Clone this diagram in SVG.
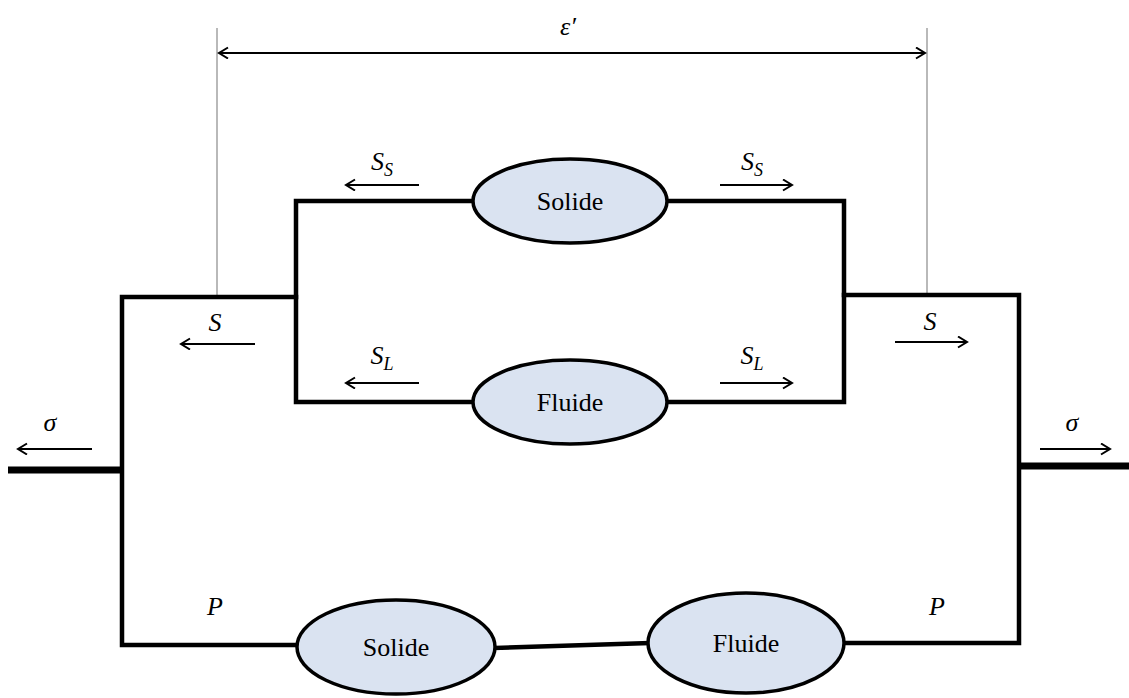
<svg xmlns="http://www.w3.org/2000/svg" width="1129" height="698" viewBox="0 0 1129 698">
<style>
.w{fill:none;stroke:#000;stroke-width:4.5;stroke-linecap:square}
.thick{fill:none;stroke:#000;stroke-width:7}
.ar{fill:none;stroke:#000;stroke-width:2;marker-end:url(#h)}
.guide{fill:none;stroke:#8a8a8a;stroke-width:1.2}
.node{fill:#dae3f1;stroke:#000;stroke-width:3.5}
.nt{font-family:'Liberation Serif','DejaVu Serif',serif;font-size:26px;text-anchor:middle}
.lb{font-family:'Liberation Serif','DejaVu Serif',serif;font-style:italic;font-size:26px;text-anchor:middle}
.sub{font-size:18px}
</style>
<defs>
<marker id="h" markerWidth="14" markerHeight="14" refX="10" refY="6" orient="auto-start-reverse" markerUnits="userSpaceOnUse">
<path d="M1,0.5 L10,6 L1,11.5" fill="none" stroke="#000" stroke-width="2"/>
</marker>
</defs>
<g id="connectors">
<line class="guide" x1="217" y1="28" x2="217" y2="297"/>
<line class="guide" x1="927" y1="28" x2="927" y2="295"/>
<line x1="219" y1="53" x2="925" y2="53" stroke="#000" stroke-width="2" marker-start="url(#h)" marker-end="url(#h)"/>
<polyline class="w" points="473,201 296,201 296,402 473,402"/>
<polyline class="w" points="667,201 844,201 844,402 667,402"/>
<polyline class="w" points="296,297 122,297 122,645 297,645"/>
<polyline class="w" points="844,295 1019,295 1019,643 845,643"/>
<line class="w" x1="495" y1="648" x2="648" y2="643"/>
<line class="thick" x1="8" y1="470" x2="122" y2="470"/>
<line class="thick" x1="1019" y1="466" x2="1129" y2="466"/>
<line class="ar" x1="419" y1="185" x2="346" y2="185"/>
<line class="ar" x1="720" y1="185" x2="792" y2="185"/>
<line class="ar" x1="255" y1="344" x2="181" y2="344"/>
<line class="ar" x1="895" y1="342" x2="967" y2="342"/>
<line class="ar" x1="419" y1="383" x2="346" y2="383"/>
<line class="ar" x1="720" y1="383" x2="792" y2="383"/>
<line class="ar" x1="92" y1="449" x2="18" y2="449"/>
<line class="ar" x1="1040" y1="449" x2="1110" y2="449"/>
</g>
<g id="labels">
<text class="lb" x="568" y="35">ε′</text>
<text class="lb" x="382" y="170">S<tspan class="sub" dy="6">S</tspan></text>
<text class="lb" x="752" y="170">S<tspan class="sub" dy="6">S</tspan></text>
<text class="lb" x="215" y="331">S</text>
<text class="lb" x="930" y="330">S</text>
<text class="lb" x="382" y="364">S<tspan class="sub" dy="6">L</tspan></text>
<text class="lb" x="752" y="364">S<tspan class="sub" dy="6">L</tspan></text>
<text class="lb" x="50" y="431">σ</text>
<text class="lb" x="1072" y="431">σ</text>
<text class="lb" x="215" y="615">P</text>
<text class="lb" x="937" y="615">P</text>
</g>
<g id="solide-top"><ellipse class="node" cx="570" cy="201" rx="97" ry="42"/><text class="nt" x="570" y="210">Solide</text></g>
<g id="fluide-top"><ellipse class="node" cx="570" cy="402" rx="97" ry="42"/><text class="nt" x="570" y="411">Fluide</text></g>
<g id="solide-bottom"><ellipse class="node" cx="396" cy="647" rx="99" ry="47"/><text class="nt" x="396" y="656">Solide</text></g>
<g id="fluide-bottom"><ellipse class="node" cx="746" cy="643" rx="98" ry="50"/><text class="nt" x="746" y="652">Fluide</text></g>
</svg>
